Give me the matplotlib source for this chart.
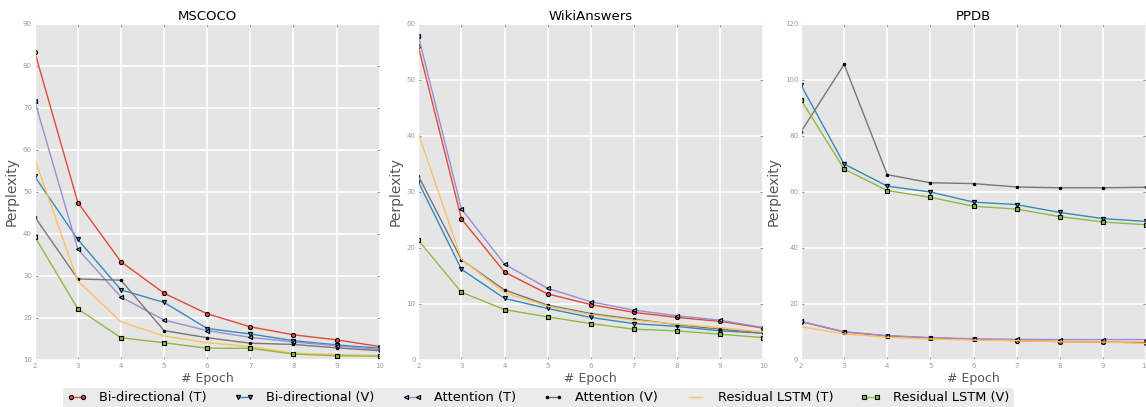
import numpy as np
import matplotlib
matplotlib.use('Agg')
import matplotlib.pyplot as plt

plt.style.use('ggplot')

# --------- data ---------
epochs = [2, 3, 4, 5, 6, 7, 8, 9, 10]
series_names = ['Bi-directional (T)', 'Bi-directional (V)', 'Attention (T)',
                'Attention (V)', 'Residual LSTM (T)', 'Residual LSTM (V)']

mscoco_bidir_t = [83.4, 47.5, 33.4, 25.9, 21.0, 17.9, 16.0, 14.8, 13.2]
mscoco_bidir_v = [53.7, 38.7, 26.7, 23.7, 17.5, 16.2, 14.6, 13.6, 12.8]
mscoco_attn_t = [71.7, 36.4, 25.0, 19.5, 17.0, 15.4, 14.3, 13.4, 12.5]
mscoco_attn_v = [44.1, 29.3, 29.0, 17.0, 15.3, 14.0, 13.7, 12.9, 12.2]
mscoco_res_t = [57.9, 28.8, 19.1, 15.7, 14.1, 13.2, 11.6, 11.3, 11.1]
mscoco_res_v = [39.4, 22.2, 15.3, 14.1, 12.8, 12.8, 11.4, 11.0, 10.9]

wiki_bidir_t = [56.0, 25.2, 15.7, 11.8, 9.9, 8.5, 7.6, 6.9, 5.7]
wiki_bidir_v = [31.8, 16.2, 11.0, 9.2, 7.6, 6.5, 6.0, 5.2, 4.8]
wiki_attn_t = [57.9, 27.0, 17.1, 12.8, 10.4, 8.9, 7.9, 7.1, 5.8]
wiki_attn_v = [32.9, 17.9, 12.5, 9.8, 8.3, 7.3, 6.3, 5.5, 4.8]
wiki_res_t = [40.5, 18.0, 12.0, 9.6, 8.1, 7.1, 6.4, 5.8, 5.0]
wiki_res_v = [21.4, 12.1, 9.0, 7.7, 6.5, 5.5, 5.2, 4.6, 4.0]

ppdb_bidir_t = [13.7, 10.0, 8.6, 7.9, 7.4, 6.9, 6.6, 6.4, 6.2]
ppdb_bidir_v = [98.2, 70.0, 62.1, 60.0, 56.4, 55.5, 52.7, 50.5, 49.5]
ppdb_attn_t = [13.8, 10.1, 8.7, 8.0, 7.6, 7.4, 7.3, 7.3, 7.3]
ppdb_attn_v = [81.5, 105.6, 66.2, 63.3, 63.0, 61.8, 61.5, 61.5, 61.7]
ppdb_res_t = [11.9, 9.3, 8.1, 7.5, 7.1, 6.9, 6.5, 6.4, 5.9]
ppdb_res_v = [92.9, 68.2, 60.5, 58.1, 54.9, 53.9, 51.2, 49.3, 48.3]

titles = ['MSCOCO', 'WikiAnswers', 'PPDB']
y_limits = [(10, 90), (0, 60), (0, 120)]
y_steps = [10, 10, 20]

panels = [
    [mscoco_bidir_t, mscoco_bidir_v, mscoco_attn_t, mscoco_attn_v, mscoco_res_t, mscoco_res_v],
    [wiki_bidir_t, wiki_bidir_v, wiki_attn_t, wiki_attn_v, wiki_res_t, wiki_res_v],
    [ppdb_bidir_t, ppdb_bidir_v, ppdb_attn_t, ppdb_attn_v, ppdb_res_t, ppdb_res_v],
]

# --------- styling ---------
colors = ['#E24A33', '#348ABD', '#988ED5', '#777777', '#FBC15E', '#8EBA42']
markers = ['o', 'v', '<', '.', None, 's']

fig = plt.figure(figsize=(11.46, 4.07), dpi=100)
lefts = [34.7 / 1146, 418.3 / 1146, 801 / 1146]
bottom = 47 / 407
width = 345 / 1146
height = 336 / 407

handles = []
for i, (title, series) in enumerate(zip(titles, panels)):
    ax = fig.add_axes([lefts[i], bottom, width, height])
    for j, values in enumerate(series):
        is_dot = markers[j] == '.'
        line, = ax.plot(epochs, values, color=colors[j], marker=markers[j],
                        markersize=3.5 if is_dot else 3,
                        markeredgecolor='black', markeredgewidth=0.8,
                        markerfacecolor='black' if is_dot else colors[j],
                        linewidth=1.0, label=series_names[j])
        if i == 0:
            handles.append(line)
    ax.set_xlim(2, 10)
    ax.set_ylim(*y_limits[i])
    ax.set_xticks(epochs)
    ax.set_yticks(np.arange(y_limits[i][0], y_limits[i][1] + 1, y_steps[i]))
    ax.tick_params(axis='both', labelsize=5, colors='#999999', length=2,
                   direction='in', top=True, right=True, pad=2)
    ax.set_title(title, fontsize=9.5, color='black', pad=3)
    ax.set_ylabel('Perplexity', fontsize=10, color='#555555', labelpad=3)
    ax.set_xlabel('# Epoch', fontsize=9, color='#555555', labelpad=2)
    ax.grid(True, color='white', linewidth=1.2)

leg = fig.legend(handles=handles, loc='center', ncol=6, numpoints=2,
                 bbox_to_anchor=(538 / 1146, 9 / 407), fontsize=9.3,
                 frameon=True, handlelength=1.55, handletextpad=0.95,
                 columnspacing=2.1, borderaxespad=0.0, borderpad=0.3)
leg.get_frame().set_facecolor('#E5E5E5')
leg.get_frame().set_edgecolor('#E5E5E5')

fig.savefig('out.png', dpi=100)
